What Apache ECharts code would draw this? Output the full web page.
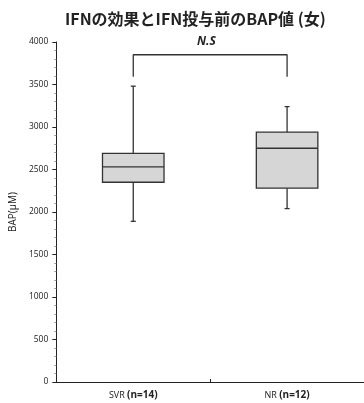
<!DOCTYPE html>
<html><head><meta charset="utf-8">
<script src="https://cdn.jsdelivr.net/npm/echarts@6/dist/echarts.min.js"></script>
<style>html,body{margin:0;padding:0;background:#fff}#c{width:364px;height:403px}</style>
</head><body><div id="c"></div>
<script>
var categories = ['SVR', 'NR'];
var categoryN = ['n=14', 'n=12'];
var boxMin = [1890, 2040];
var boxQ1 = [2350, 2280];
var boxMedian = [2530, 2750];
var boxQ3 = [2690, 2940];
var boxMax = [3480, 3240];
var bracketLeg = 3590;
var bracketTop = 3850;
var sigLabel = 'N.S';
var yTicks = [0, 500, 1000, 1500, 2000, 2500, 3000, 3500, 4000];

var chart = echarts.init(document.getElementById('c'));
var boxData = categories.map(function (c, i) {
  return [i, boxMin[i], boxQ1[i], boxMedian[i], boxQ3[i], boxMax[i]];
});
var bracketData = [
  [categories[0], bracketLeg], [categories[0], bracketTop],
  [categories[1], bracketTop], [categories[1], bracketLeg]
];
var stroke = { stroke: '#333', lineWidth: 1.3, fill: null };
chart.setOption({
  animation: false,
  title: {
    text: 'IFNの効果とIFN投与前のBAP値 (女)',
    left: 60, top: 6,
    textStyle: { fontFamily: 'Noto Sans CJK JP', fontWeight: 'bold', fontSize: 16, color: '#222' }
  },
  grid: { left: 53, right: 0, top: 42, bottom: 21 },
  xAxis: {
    type: 'category', data: categories, boundaryGap: true,
    axisLine: { lineStyle: { color: '#222', width: 1 } },
    axisTick: { show: true, inside: true, length: 3, lineStyle: { color: '#222' } },
    axisLabel: {
      margin: 8,
      formatter: function (v, i) { return '{a|' + v + ' }{b|(' + categoryN[i] + ')}'; },
      rich: {
        a: { fontFamily: 'Open Sans', fontSize: 9, color: '#222' },
        b: { fontFamily: 'Open Sans', fontWeight: 'bold', fontSize: 10, color: '#222' }
      }
    }
  },
  yAxis: {
    type: 'value', min: yTicks[0], max: yTicks[yTicks.length - 1], interval: 500,
    name: 'BAP(μM)', nameLocation: 'middle', nameGap: 35, nameRotate: 90,
    nameTextStyle: { fontFamily: 'Open Sans', fontSize: 10, color: '#222' },
    axisLine: { show: true, lineStyle: { color: '#222', width: 1 } },
    axisTick: { show: true, length: 4, lineStyle: { color: '#222' } },
    minorTick: { show: true, splitNumber: 5, length: 2, lineStyle: { color: '#999' } },
    splitLine: { show: false },
    axisLabel: { fontFamily: 'Open Sans', fontSize: 8.5, color: '#222', margin: 8,
      formatter: function (v) { return String(v); } }
  },
  series: [
    {
      type: 'custom', data: boxData,
      renderItem: function (params, api) {
        var x = api.value(0);
        var pMin = api.coord([x, api.value(1)]);
        var pQ1 = api.coord([x, api.value(2)]);
        var pMed = api.coord([x, api.value(3)]);
        var pQ3 = api.coord([x, api.value(4)]);
        var pMax = api.coord([x, api.value(5)]);
        var half = api.size([1, 0])[0] * 0.2;
        var cap = 2.5;
        var cx = pMed[0];
        return {
          type: 'group', children: [
            { type: 'line', shape: { x1: cx, y1: pMax[1], x2: cx, y2: pQ3[1] }, style: stroke },
            { type: 'line', shape: { x1: cx, y1: pQ1[1], x2: cx, y2: pMin[1] }, style: stroke },
            { type: 'line', shape: { x1: cx - cap, y1: pMax[1], x2: cx + cap, y2: pMax[1] }, style: stroke },
            { type: 'line', shape: { x1: cx - cap, y1: pMin[1], x2: cx + cap, y2: pMin[1] }, style: stroke },
            { type: 'rect', shape: { x: cx - half, y: pQ3[1], width: half * 2, height: pQ1[1] - pQ3[1] },
              style: { fill: '#d6d6d6', stroke: '#333', lineWidth: 1.3 } },
            { type: 'line', shape: { x1: cx - half, y1: pMed[1], x2: cx + half, y2: pMed[1] }, style: stroke }
          ]
        };
      }
    },
    {
      type: 'line', data: bracketData, symbol: 'none',
      lineStyle: { color: '#333', width: 1.3 }
    }
  ],
  graphic: [{
    type: 'text', left: 197, top: 36,
    style: { text: sigLabel, font: 'italic bold 12px "Open Sans"', fill: '#222' }
  }]
});
</script></body></html>
